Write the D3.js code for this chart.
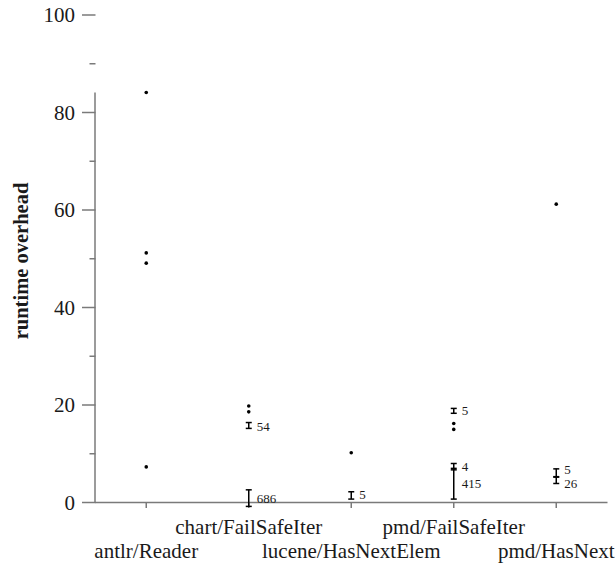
<!DOCTYPE html>
<html><head><meta charset="utf-8">
<script src="https://cdn.jsdelivr.net/npm/d3@7"></script>
<style>body{margin:0;background:#fff}svg{display:block}</style>
</head><body><svg id="c" width="615" height="563"></svg>
<script>
const categories = ["antlr/Reader","chart/FailSafeIter","lucene/HasNextElem","pmd/FailSafeIter","pmd/HasNext"];
const yMajorTicks = [0,20,40,60,80,100];
const yMinorTicks = [10,30,50,70,90];
// single measurements (dots)
const dotCategory = ["antlr/Reader","antlr/Reader","antlr/Reader","antlr/Reader",
  "chart/FailSafeIter","chart/FailSafeIter","pmd/FailSafeIter","pmd/FailSafeIter",
  "pmd/HasNext","lucene/HasNextElem"];
const dotValue = [84.1,51.2,49.1,7.3,19.8,18.6,16.2,15.0,61.2,10.2];
// grouped measurements (error bars with counts)
const barCategory = ["chart/FailSafeIter","chart/FailSafeIter","lucene/HasNextElem",
  "pmd/FailSafeIter","pmd/FailSafeIter","pmd/FailSafeIter","pmd/HasNext","pmd/HasNext"];
const barLow  = [15.2,-0.8,0.7,18.3,6.7,0.7,5.2,3.9];
const barHigh = [16.4, 2.6,2.2,19.3,8.0,7.0,6.9,5.3];
const barLabel = ["54","686","5","5","4","415","5","26"];
const barLabelValue = [15.6,0.9,1.6,18.8,7.4,4.0,6.8,4.0];
const yTitle = "runtime overhead";

const svg = d3.select("#c");
const axisColor = "#7a7a7a", textColor = "#1a1a1a";
const x = d3.scalePoint().domain(categories).range([95,607.5]).padding(0.5);
const y = d3.scaleLinear().domain([0,100]).range([502.5,15]);
const serif = "'Liberation Serif','DejaVu Serif',serif";

// y axis (range frame)
const yMax = d3.max(dotValue.concat(barHigh));
svg.append("line").attr("x1",95).attr("x2",95).attr("y1",y(0)).attr("y2",y(yMax))
  .attr("stroke",axisColor).attr("stroke-width",1.5);
svg.selectAll(".ymaj").data(yMajorTicks).join("line")
  .attr("x1",82).attr("x2",95.5).attr("y1",d=>y(d)).attr("y2",d=>y(d))
  .attr("stroke",axisColor).attr("stroke-width",1.5);
svg.selectAll(".ymin").data(yMinorTicks).join("line")
  .attr("x1",89.5).attr("x2",95.5).attr("y1",d=>y(d)).attr("y2",d=>y(d))
  .attr("stroke",axisColor).attr("stroke-width",1.5);
svg.selectAll(".ylab").data(yMajorTicks).join("text")
  .attr("x",75).attr("y",d=>y(d)).attr("dy","0.35em").attr("text-anchor","end")
  .attr("font-family",serif).attr("font-size",21).attr("fill",textColor).text(d=>d);
svg.append("text").attr("transform",`translate(28,${261}) rotate(-90)`)
  .attr("text-anchor","middle").attr("font-family",serif).attr("font-weight","bold")
  .attr("font-size",20.5).attr("fill",textColor).text(yTitle);

// x axis
svg.append("line").attr("x1",95).attr("x2",607.5).attr("y1",y(0)).attr("y2",y(0))
  .attr("stroke",axisColor).attr("stroke-width",1.5);
svg.selectAll(".xt").data(categories).join("line")
  .attr("x1",d=>x(d)).attr("x2",d=>x(d)).attr("y1",y(0)).attr("y2",y(0)+5.5)
  .attr("stroke",axisColor).attr("stroke-width",1.5);
svg.selectAll(".xl").data(categories).join("text")
  .attr("x",d=>x(d)).attr("y",(d,i)=> i%2===1 ? 534 : 558)
  .attr("text-anchor","middle").attr("font-family",serif).attr("font-size",21)
  .attr("fill",textColor).text(d=>d);

// dots
svg.selectAll(".dot").data(dotValue).join("circle")
  .attr("cx",(d,i)=>x(dotCategory[i])).attr("cy",d=>y(d)).attr("r",1.8).attr("fill","#000");

// error bars
const bars = barLow.map((lo,i)=>({c:barCategory[i],lo,hi:barHigh[i],lab:barLabel[i],lv:barLabelValue[i]}));
const g = svg.selectAll(".bar").data(bars).join("g");
g.append("line").attr("x1",d=>x(d.c)).attr("x2",d=>x(d.c)).attr("y1",d=>y(d.lo)).attr("y2",d=>y(d.hi))
  .attr("stroke","#000").attr("stroke-width",1.5);
g.append("line").attr("x1",d=>x(d.c)-3).attr("x2",d=>x(d.c)+3).attr("y1",d=>y(d.lo)).attr("y2",d=>y(d.lo))
  .attr("stroke","#000").attr("stroke-width",1.5);
g.append("line").attr("x1",d=>x(d.c)-3).attr("x2",d=>x(d.c)+3).attr("y1",d=>y(d.hi)).attr("y2",d=>y(d.hi))
  .attr("stroke","#000").attr("stroke-width",1.5);
g.append("text").attr("x",d=>x(d.c)+8).attr("y",d=>y(d.lv)).attr("dy","0.35em")
  .attr("font-family",serif).attr("font-size",13).attr("fill",textColor).text(d=>d.lab);
</script></body></html>
